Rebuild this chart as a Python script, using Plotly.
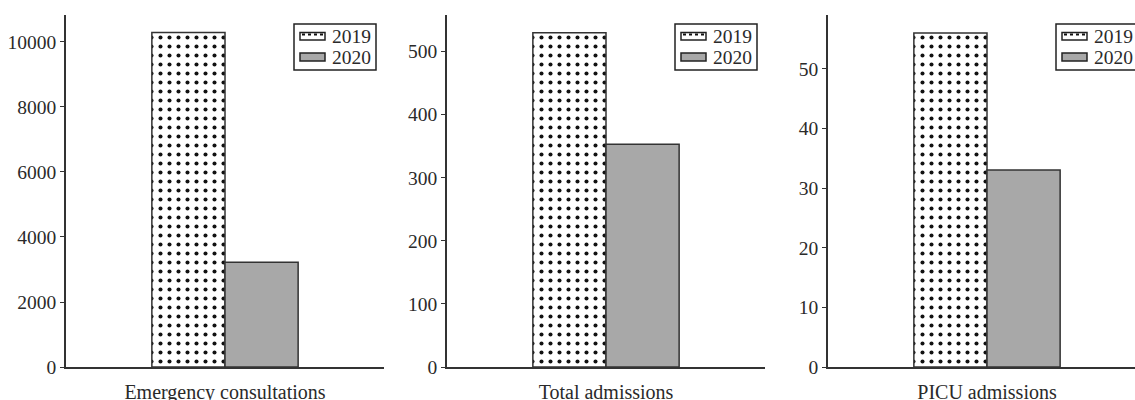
import plotly.graph_objects as go

categories = ["Emergency consultations", "Total admissions", "PICU admissions"]
years = ["2019", "2020"]
values_2019 = [10290, 530, 56]
values_2020 = [3220, 353, 33]
tick_steps = [2000, 100, 10]
axis_max = [10830, 558, 59]

W, H = 1135, 400
FONT = "Liberation Serif"
INK = "#2a2a2a"
EDGE = "#333333"
GREY = "#a8a8a8"

fig = go.Figure()

panel_left = [66, 447, 828]
panel_w = 318

dot_pattern = dict(shape=".", fgcolor="#111", bgcolor="white", size=9, solidity=0.16, fillmode="replace")

for i, cat in enumerate(categories):
    xa = "x" if i == 0 else f"x{i+1}"
    ya = "y" if i == 0 else f"y{i+1}"
    fig.add_trace(go.Bar(
        x=[cat], y=[values_2019[i]], name=years[0], xaxis=xa, yaxis=ya, showlegend=False,
        marker=dict(color="white", pattern=dot_pattern, line=dict(color=EDGE, width=1.5)),
    ))
    fig.add_trace(go.Bar(
        x=[cat], y=[values_2020[i]], name=years[1], xaxis=xa, yaxis=ya, showlegend=False,
        marker=dict(color=GREY, line=dict(color=EDGE, width=1.5)),
    ))

layout = dict(
    width=W, height=H, margin=dict(l=0, r=0, t=0, b=0, autoexpand=False),
    paper_bgcolor="white", plot_bgcolor="white",
    barmode="group", bargap=0.54, bargroupgap=0,
    font=dict(family=FONT, color=INK, size=19.5),
    showlegend=False,
)

shapes = []
annotations = []


def px(x):
    return x / W


def py(y):
    return 1 - y / H


for i in range(3):
    sx = "" if i == 0 else str(i + 1)
    left = panel_left[i]
    right = min(left + panel_w, W)
    span = (right - left) / panel_w
    layout[f"xaxis{sx}"] = dict(
        domain=[left / W, right / W], anchor=f"y{sx}",
        range=[-0.5, -0.5 + span], automargin=False,
        showline=True, linecolor=EDGE, linewidth=1.5,
        ticks="", showgrid=False, zeroline=False,
        tickfont=dict(family=FONT, size=20, color=INK),
        ticklabelstandoff=6,
    )
    layout[f"yaxis{sx}"] = dict(
        domain=[33 / H, 1 - 15 / H], anchor=f"x{sx}",
        range=[0, axis_max[i]], dtick=tick_steps[i], tick0=0, tickformat="d",
        automargin=False,
        showline=True, linecolor=EDGE, linewidth=1.5,
        ticks="outside", ticklen=4, tickwidth=1.2, tickcolor=EDGE,
        showgrid=False, zeroline=False,
        tickfont=dict(family=FONT, size=19.5, color=INK),
    )
    # legend box for this panel
    bx0 = left + 228
    bx1 = left + 310
    shapes.append(dict(type="rect", xref="paper", yref="paper",
                       x0=px(bx0), x1=px(bx1), y0=py(70), y1=py(24),
                       line=dict(color="#222", width=1.5), fillcolor="white", layer="above"))
    # 2019 symbol
    shapes.append(dict(type="rect", xref="paper", yref="paper",
                       x0=px(left + 234), x1=px(left + 259), y0=py(40), y1=py(32.5),
                       line=dict(color="#222", width=1.5), fillcolor="white", layer="above"))
    shapes.append(dict(type="line", xref="paper", yref="paper",
                       x0=px(left + 236), x1=px(left + 258), y0=py(34.5), y1=py(34.5),
                       line=dict(color="#111", width=2, dash="dot"), layer="above"))
    # 2020 symbol
    shapes.append(dict(type="rect", xref="paper", yref="paper",
                       x0=px(left + 234), x1=px(left + 259), y0=py(61), y1=py(53),
                       line=dict(color="#222", width=1.5), fillcolor=GREY, layer="above"))
    for j, yr in enumerate(years):
        annotations.append(dict(
            text=yr, xref="paper", yref="paper", x=px(left + 264), y=py(36.5 + 21 * j),
            xanchor="left", yanchor="middle", showarrow=False,
            font=dict(family=FONT, size=19.5, color=INK),
        ))

layout["shapes"] = shapes
layout["annotations"] = annotations
fig.update_layout(**layout)
fig.write_html(
    "out.html",
    config={"displayModeBar": False},
    post_script="document.body.style.margin='0';document.body.style.overflow='hidden';",
)
